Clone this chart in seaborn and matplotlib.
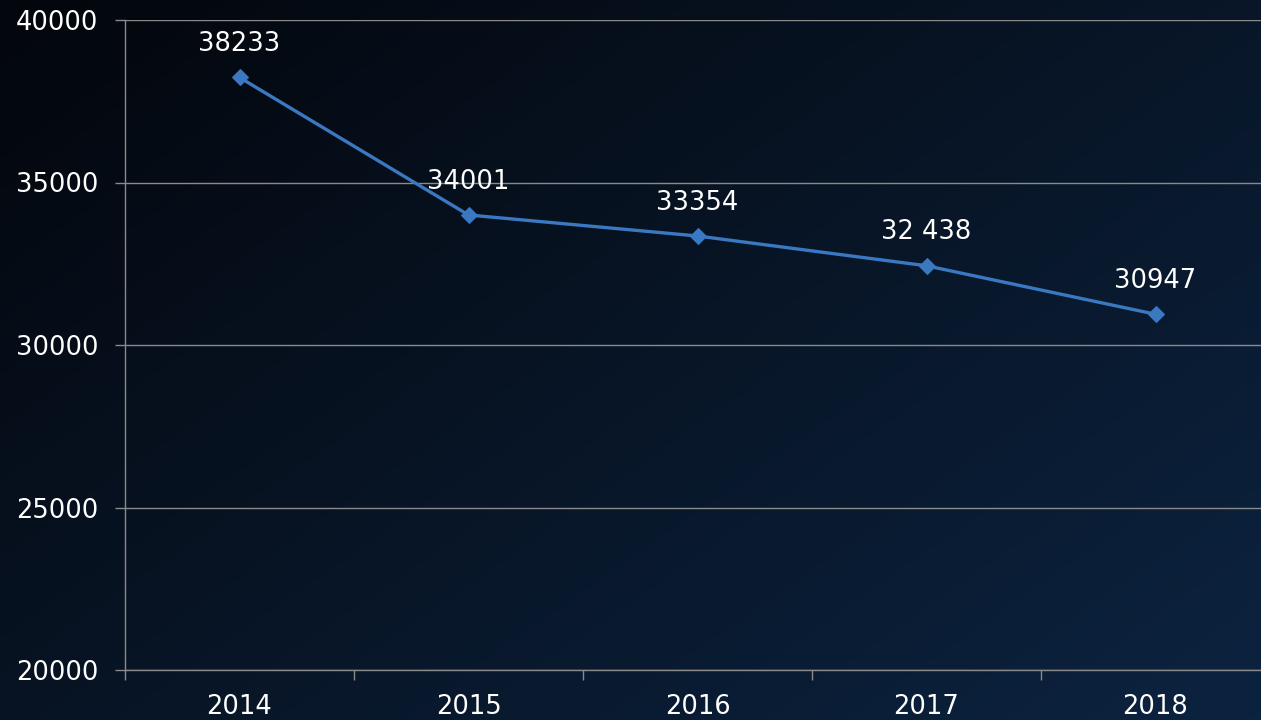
import numpy as np
import pandas as pd
import matplotlib
matplotlib.use("Agg")
import matplotlib.pyplot as plt
from matplotlib.colors import LinearSegmentedColormap
from matplotlib.ticker import FixedLocator
import seaborn as sns

# data
anos = ["2014", "2015", "2016", "2017", "2018"]
valores = [38233, 34001, 33354, 32438, 30947]
rotulos = ["38233", "34001", "33354", "32 438", "30947"]
y_ticks = [20000, 25000, 30000, 35000, 40000]

dados = pd.DataFrame({"ano": anos, "valor": valores})

sns.set_style("dark")
plt.rcParams["font.family"] = ["DejaVu Sans"]

fig = plt.figure(figsize=(12.61, 7.2), dpi=100)

# background gradient (dark, top-left black to navy bottom-right)
bg = fig.add_axes([0, 0, 1, 1], zorder=0)
gx, gy = np.meshgrid(np.linspace(0, 1, 300), np.linspace(0, 1, 200))
grad = (gx * 0.55 + gy * 0.45)
cmap = LinearSegmentedColormap.from_list("fundo", ["#03060c", "#081526", "#0c2340"])
bg.imshow(grad, cmap=cmap, aspect="auto", extent=[0, 1, 0, 1], origin="upper")
bg.axis("off")

W, H = 1261, 720
ax = fig.add_axes([125 / W, 50 / H, (1270 - 125) / W, 650 / H], zorder=1)
ax.set_facecolor("none")

cor = "#3a78c2"
sns.lineplot(data=dados, x="ano", y="valor", ax=ax, color=cor, linewidth=2.4,
             marker="D", markersize=8, markeredgecolor=cor, sort=False)

for i, (v, r) in enumerate(zip(valores, rotulos)):
    ax.annotate(r, (i, v), xytext=(0, 24), textcoords="offset points",
                ha="center", va="center", color="white", fontsize=18.5)

ax.set_xlim(-0.5, 4.5)
ax.set_ylim(20000, 40000)
ax.set_yticks(y_ticks)
ax.set_xticks(range(len(anos)))
ax.set_xticklabels(anos)
ax.xaxis.set_minor_locator(FixedLocator([-0.5, 0.5, 1.5, 2.5, 3.5]))

ax.grid(False)
ax.yaxis.grid(True, color="#8a8a8a", linewidth=1)
ax.set_axisbelow(True)

for s in ["top", "right"]:
    ax.spines[s].set_visible(False)
for s in ["left", "bottom"]:
    ax.spines[s].set_color("#8a8a8a")
    ax.spines[s].set_linewidth(1)

ax.tick_params(axis="y", which="major", length=7, width=1, color="#8a8a8a",
               direction="out", pad=12, labelsize=18.5, labelcolor="white", left=True)
ax.tick_params(axis="x", which="major", length=0, pad=17, labelsize=18.5,
               labelcolor="white")
ax.tick_params(axis="x", which="minor", length=7, width=1, color="#8a8a8a",
               direction="out", bottom=True)

ax.set_xlabel("")
ax.set_ylabel("")

fig.savefig("out.png", dpi=100)
